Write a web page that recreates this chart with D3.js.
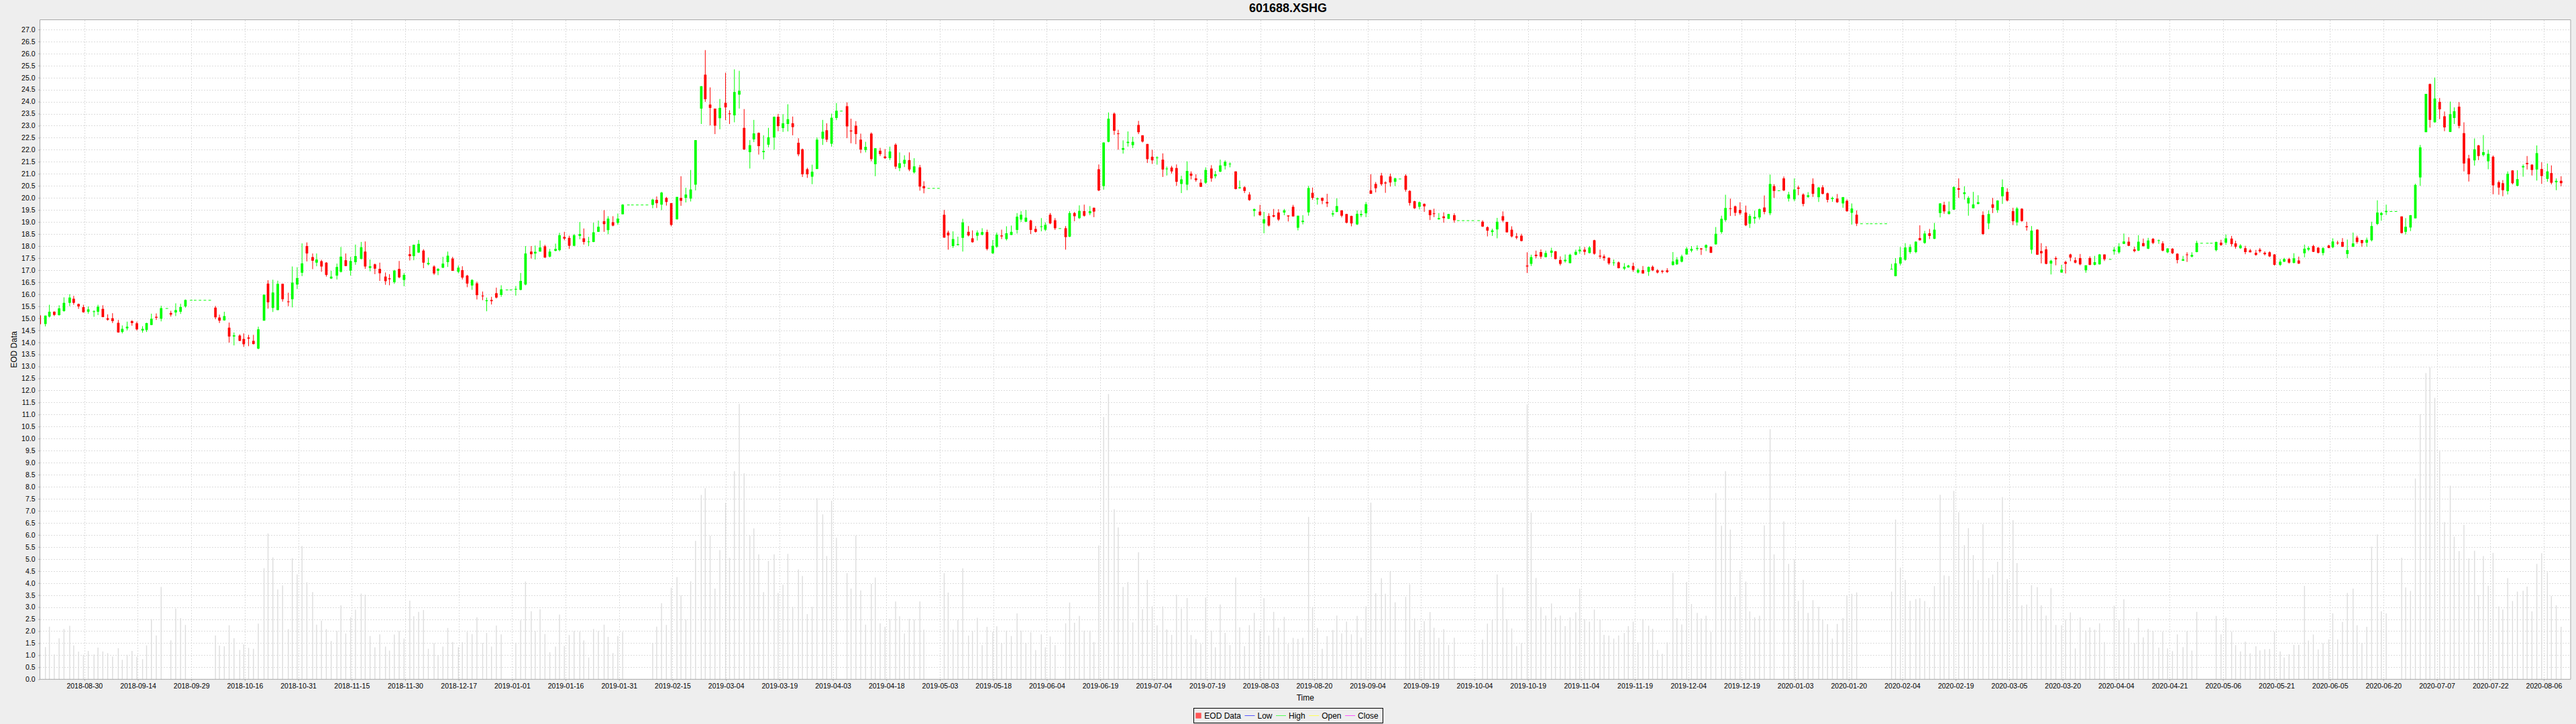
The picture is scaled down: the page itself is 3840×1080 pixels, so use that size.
<!DOCTYPE html>
<html>
<head>
<meta charset="utf-8">
<title>601688.XSHG</title>
<script src="https://cdn.jsdelivr.net/npm/d3@7"></script>
<style>
  html, body { margin: 0; padding: 0; background: #eeeeee; }
  svg { display: block; font-family: "Liberation Sans", Arial, sans-serif; }
  .tick text { font-size: 10.5px; fill: #000; }
</style>
</head>
<body>
<div id="chart"></div>
<script>
// one entry per weekday, first bar is Fri 2018-08-17, last is Thu 2020-08-13
const opens = [
  15.12,14.76,15.07,15.27,15.13,15.30,15.64,15.81,15.59,15.46,
  15.27,15.26,15.27,15.39,15.0,15.0,14.81,14.43,14.58,14.88,
  14.79,14.49,14.51,14.72,15.06,14.98,15.42,15.22,15.24,15.27,
  15.49,15.76,15.76,15.76,15.76,15.76,15.44,15.03,14.91,14.61,
  14.24,14.28,14.14,14.2,14.06,13.74,14.9,16.44,15.43,15.34,
  16.43,15.7,15.79,16.4,16.89,18.0,17.54,17.31,17.37,17.31,
  16.65,16.77,16.93,17.41,16.98,17.33,17.47,17.77,17.09,17.24,
  17.05,16.73,16.66,16.5,17.05,16.59,17.66,17.58,17.73,17.81,
  17.24,17.15,16.97,17.1,17.33,17.48,16.93,17.0,16.77,16.36,
  16.45,15.94,15.71,15.76,16.04,15.97,16.19,16.19,16.19,16.18,
  16.4,17.77,17.69,17.77,17.99,17.56,17.8,17.83,18.38,18.34,
  18.01,18.42,18.32,18.16,18.17,18.59,19.03,18.66,18.99,18.96,
  19.32,19.72,19.72,19.72,19.72,19.72,19.71,19.92,19.72,20.0,
  19.78,19.11,20.0,20.0,19.97,20.55,23.71,25.12,23.88,23.71,
  23.31,23.95,23.51,23.43,24.29,22.91,21.9,22.43,22.7,21.9,
  22.21,22.51,23.37,22.9,23.07,23.1,22.29,22.02,21.19,20.88,
  21.2,22.46,22.81,22.25,23.32,23.62,23.81,22.8,23.0,22.42,
  21.99,22.67,21.4,21.96,21.72,21.65,22.21,21.24,21.42,21.57,
  21.06,21.27,20.49,20.41,20.41,20.41,19.3,18.56,18.0,18.04,
  18.34,18.59,18.32,18.43,18.47,18.58,17.7,17.97,18.44,18.29,
  18.46,18.67,19.1,19.01,19.06,18.71,18.79,18.68,19.3,19.07,
  18.74,18.74,18.39,19.37,19.16,19.45,19.36,19.59,21.19,20.49,
  22.33,23.5,22.68,22.0,22.28,22.19,23.03,22.6,22.24,21.71,
  21.65,21.59,21.19,21.26,21.24,20.58,20.55,21.01,20.81,20.63,
  20.63,21.22,20.9,21.09,21.33,21.41,21.1,20.4,20.44,20.14,
  19.46,19.43,18.94,19.25,19.28,19.39,19.39,19.27,19.63,18.76,
  19.0,19.4,20.21,19.94,20.0,19.83,19.31,19.42,19.48,19.33,
  19.25,18.9,19.28,19.36,20.31,20.58,20.93,20.64,20.89,20.67,
  20.8,20.92,20.29,19.86,19.63,19.75,19.49,19.36,19.11,19.23,
  19.13,19.28,19.07,19.07,19.07,19.07,19.07,19.01,18.78,18.58,
  18.69,19.24,19.0,18.68,18.4,18.43,17.19,17.26,17.64,17.75,
  17.54,17.72,17.78,17.42,17.37,17.29,17.64,17.78,17.85,17.71,
  18.24,17.6,17.57,17.51,17.29,17.32,17.06,17.11,17.17,16.9,
  17.0,16.93,17.14,16.99,16.97,16.99,17.21,17.24,17.35,17.65,
  17.81,17.88,17.9,17.93,17.97,18.07,18.58,19.08,19.57,19.65,
  19.5,19.39,18.93,19.14,19.19,19.6,19.36,20.49,20.31,20.81,
  19.97,19.94,20.43,20.14,20.04,20.58,20.03,20.44,20.19,19.95,
  19.97,19.77,19.88,19.38,19.3,18.94,18.94,18.94,18.94,18.94,
  18.94,17.04,16.75,17.27,17.43,17.75,17.75,18.33,18.13,18.53,
  18.3,19.37,19.71,19.33,19.51,20.4,20.16,19.77,19.57,19.75,
  19.29,18.94,19.73,19.49,20.07,20.25,19.45,18.98,19.55,18.82,
  17.85,18.68,17.79,17.86,17.27,17.5,16.9,17.34,17.65,17.41,
  17.5,16.99,17.5,17.22,17.24,17.65,17.46,17.78,17.74,18.09,
  18.18,17.86,17.81,18.12,17.89,18.3,18.22,18.11,17.74,17.89,
  17.68,17.39,17.65,17.56,17.75,18.13,18.13,18.13,17.83,18.14,
  18.14,18.31,18.11,17.91,17.91,17.82,17.72,17.85,17.72,17.74,
  17.65,17.22,17.35,17.46,17.3,17.4,17.7,17.85,18.0,17.93,
  17.71,18.02,17.95,18.14,18.17,17.67,17.97,18.35,18.25,18.14,
  18.24,18.92,19.29,19.41,19.45,19.45,19.23,18.59,18.77,19.15,
  20.85,22.73,24.73,23.14,23.99,23.39,22.74,23.32,23.79,22.69,
  21.64,21.56,22.18,21.78,21.52,21.71,20.65,20.61,20.28,21.14,
  20.5,21.27,21.45,21.38,21.18,21.2,20.79,21.03,20.65,20.71
];

const closes = [
  14.75,15.11,15.27,15.14,15.41,15.64,15.86,15.64,15.49,15.25,
  15.37,15.29,15.48,15.05,14.94,14.88,14.41,14.56,14.65,14.80,
  14.54,14.56,14.8,14.98,15.02,15.42,15.42,15.15,15.34,15.47,
  15.76,15.76,15.76,15.76,15.76,15.76,15.04,14.9,15.09,14.24,
  14.29,14.06,13.92,14.15,13.93,14.54,15.98,15.66,16.07,16.43,
  15.79,15.67,16.48,16.67,17.28,17.69,17.39,17.44,17.15,16.8,
  16.73,17.13,17.56,17.17,17.38,17.58,17.95,17.15,17.16,17.06,
  16.87,16.54,16.62,16.98,16.7,16.8,17.58,18.05,18.09,17.31,
  17.3,16.86,17.05,17.27,17.6,16.97,17.1,16.69,16.44,16.59,
  15.96,15.91,15.75,15.71,15.86,16.2,16.19,16.19,16.22,16.55,
  17.69,17.66,17.76,17.94,17.52,17.77,17.88,18.45,18.31,18.01,
  18.45,18.5,18.17,18.19,18.57,18.8,18.91,19.14,18.85,19.14,
  19.72,19.72,19.72,19.72,19.72,19.72,19.93,19.78,20.22,19.83,
  18.88,20.04,19.88,20.14,20.35,22.4,24.64,24.1,23.74,23.0,
  23.74,23.76,23.49,24.4,24.45,22.01,22.19,22.68,22.15,21.95,
  22.52,23.37,22.98,23.1,23.27,22.94,21.81,20.98,20.98,21.09,
  22.42,22.75,22.42,23.33,23.62,23.62,22.97,22.76,22.65,22.01,
  22.12,21.61,22.06,21.82,21.65,21.93,21.3,21.44,21.58,21.18,
  21.31,20.47,20.4,20.41,20.41,20.41,18.35,18.44,18.29,18.08,
  18.98,18.44,18.16,18.56,18.58,17.88,18.01,18.47,18.4,18.53,
  18.59,19.22,19.3,19.18,18.67,18.59,18.82,18.88,18.94,18.74,
  18.74,18.37,19.37,19.24,19.46,19.26,19.45,19.43,20.31,22.3,
  23.29,22.79,22.66,22.07,22.33,22.33,22.73,22.34,21.61,21.56,
  21.68,21.18,21.22,21.1,20.67,20.77,21.12,20.92,20.74,20.46,
  21.16,20.81,20.98,21.35,21.5,21.42,20.37,20.44,20.29,19.91,
  19.53,19.28,19.11,18.85,19.22,19.1,19.48,19.23,19.23,19.26,
  19.05,20.41,20.0,19.98,19.88,19.77,19.36,19.66,19.26,18.97,
  18.94,19.34,19.33,19.74,20.17,20.4,20.57,20.6,20.64,20.81,
  20.8,20.34,19.79,19.57,19.82,19.65,19.28,19.33,19.16,19.16,
  19.33,19.07,19.07,19.07,19.07,19.07,19.07,18.81,18.64,18.65,
  19.01,19.06,18.57,18.4,18.35,18.21,17.15,17.54,17.58,17.56,
  17.71,17.81,17.46,17.26,17.43,17.64,17.76,17.85,17.76,17.94,
  17.68,17.56,17.5,17.28,17.32,17.08,17.14,17.19,17.01,17.01,
  16.86,17.13,16.99,16.9,16.93,16.92,17.36,17.44,17.57,17.89,
  17.88,17.92,17.86,18.04,17.72,18.51,19.13,19.58,19.54,19.38,
  19.36,18.86,19.25,19.21,19.53,19.42,20.58,20.29,20.31,20.31,
  20.14,20.35,20.38,19.75,20.11,20.17,20.43,20.17,19.92,20.0,
  19.82,20.03,19.45,19.56,18.93,18.94,18.94,18.94,18.94,18.94,
  18.94,17.05,17.28,17.53,17.94,17.96,18.18,18.24,18.52,18.42,
  18.68,19.77,19.44,19.44,20.45,20.34,20.23,20.0,19.73,19.82,
  18.5,19.33,19.59,19.89,20.45,19.89,19.03,19.56,19.04,18.78,
  18.64,17.64,17.7,17.26,17.39,17.45,17.02,17.26,17.52,17.31,
  17.24,17.2,17.22,17.33,17.65,17.45,17.46,17.85,17.98,18.19,
  18.01,17.79,18.18,18.0,18.23,18.13,18.24,17.81,17.9,17.7,
  17.42,17.45,17.63,17.63,18.13,18.13,18.13,18.13,18.17,18.04,
  18.32,18.08,17.97,18.02,17.75,17.74,17.63,17.78,17.66,17.57,
  17.22,17.35,17.46,17.31,17.49,17.27,17.89,17.92,17.76,17.72,
  17.91,17.92,18.19,18.13,17.97,17.83,18.11,18.17,18.12,18.26,
  18.83,19.39,19.37,19.46,19.45,19.45,18.54,18.8,19.28,20.54,
  22.1,24.32,23.24,24.13,23.68,22.93,23.48,23.6,22.99,21.43,
  20.98,22.02,21.74,21.9,21.83,20.52,20.43,20.32,21.0,20.61,
  20.78,21.32,21.4,21.16,21.86,20.91,21.1,20.63,20.71,20.61
];

const highs = [
  15.13,15.11,15.56,15.29,15.54,15.87,16.0,15.93,15.61,15.56,
  15.49,15.33,15.56,15.54,15.16,15.21,14.93,14.7,14.86,14.92,
  14.86,14.67,14.81,15.19,15.2,15.52,15.42,15.31,15.62,15.6,
  15.78,15.76,15.76,15.76,15.76,15.76,15.51,15.15,15.27,14.82,
  14.41,14.33,14.37,14.31,14.31,14.65,15.98,16.58,16.6,16.56,
  16.43,16.06,17.15,17.12,18.11,18.15,17.69,17.69,17.43,17.33,
  16.97,17.27,17.96,17.69,17.55,18.06,18.17,18.19,17.44,17.27,
  17.31,16.9,16.83,17.01,17.38,16.88,18.0,18.06,18.25,17.87,
  17.52,17.2,17.08,17.55,17.77,17.55,17.19,17.16,16.8,16.62,
  16.52,16.11,15.86,15.89,16.27,16.37,16.19,16.19,16.34,16.88,
  18.0,18.0,18.02,18.23,18.05,17.88,18.1,18.55,18.59,18.43,
  18.5,19.0,18.73,18.38,18.97,19.06,19.49,19.24,19.24,19.35,
  19.74,19.72,19.72,19.72,19.72,19.72,19.96,20.06,20.25,20.04,
  19.79,20.04,20.9,20.42,21.16,22.4,24.64,26.14,24.59,23.71,
  24.11,25.2,23.64,25.34,25.28,23.69,22.4,23.24,22.72,22.6,
  22.91,23.38,23.49,23.48,23.89,23.38,22.48,22.05,21.25,21.38,
  22.51,23.24,23.1,23.5,23.94,23.62,23.97,23.29,23.19,22.67,
  22.33,22.72,22.07,22.08,22.03,22.13,22.27,21.89,21.77,21.89,
  21.65,21.37,20.69,20.41,20.41,20.41,19.5,18.64,18.61,18.39,
  19.13,18.83,18.65,18.65,18.74,18.68,18.25,18.56,18.68,18.82,
  18.85,19.37,19.45,19.5,19.09,18.83,19.16,18.98,19.37,19.16,
  18.74,18.83,19.45,19.42,19.69,19.72,19.66,19.6,21.39,22.31,
  23.55,23.55,22.83,22.39,22.76,22.54,23.2,22.6,22.24,22.0,
  21.73,21.85,21.3,21.33,21.39,20.92,21.52,21.1,20.98,20.78,
  21.27,21.36,21.12,21.59,21.56,21.47,21.1,20.72,20.49,20.24,
  19.56,19.71,19.42,19.36,19.54,19.53,19.54,19.27,19.71,19.26,
  19.28,20.5,20.43,20.02,20.02,20.17,19.48,19.98,19.49,19.34,
  19.26,19.48,19.48,19.83,20.98,20.66,21.04,20.69,21.01,20.84,
  20.8,20.98,20.32,19.88,19.85,19.77,19.51,19.55,19.37,19.4,
  19.33,19.36,19.07,19.07,19.07,19.07,19.07,19.07,18.82,18.72,
  19.17,19.44,19.01,18.82,18.54,18.51,17.74,17.64,17.81,17.86,
  17.81,17.93,17.79,17.57,17.65,17.68,17.85,17.99,17.96,18.0,
  18.26,17.85,17.65,17.53,17.44,17.36,17.29,17.22,17.31,17.07,
  17.17,17.15,17.19,17.04,17.01,17.08,17.75,17.54,17.64,17.96,
  18.0,18.03,17.92,18.07,17.99,18.79,19.26,20.13,19.97,19.68,
  19.82,19.68,19.33,19.47,19.56,20.1,20.97,20.57,20.31,20.89,
  20.25,20.81,20.51,20.19,20.24,20.81,20.46,20.53,20.22,20.05,
  20.16,20.04,19.94,19.77,19.48,18.94,18.94,18.94,18.94,18.94,
  18.94,17.26,17.5,17.96,18.12,18.07,18.2,18.86,18.63,18.71,
  18.96,19.78,19.84,19.85,20.48,20.81,20.48,20.07,20.25,20.11,
  19.44,19.48,20.0,19.9,20.77,20.4,19.59,19.62,19.57,19.01,
  18.83,18.7,18.12,18.0,17.43,17.57,17.22,17.39,17.68,17.53,
  17.67,17.2,17.57,17.59,17.67,17.65,17.46,17.96,18.12,18.52,
  18.37,17.97,18.45,18.31,18.34,18.33,18.27,18.2,17.91,17.91,
  17.7,17.59,17.74,17.74,18.22,18.13,18.13,18.13,18.18,18.26,
  18.48,18.42,18.22,18.08,18.01,17.88,17.84,17.92,17.78,17.78,
  17.66,17.46,17.51,17.51,17.7,17.56,18.06,17.99,18.05,17.96,
  17.96,18.05,18.32,18.22,18.33,18.27,18.56,18.43,18.25,18.35,
  19.01,19.9,19.42,19.72,19.45,19.45,19.23,19.16,19.29,20.59,
  22.2,24.32,24.75,25.0,24.15,23.59,24.0,23.76,23.98,23.14,
  21.79,22.47,22.2,22.61,22.0,21.76,20.72,20.74,21.1,21.15,
  21.15,21.39,21.74,21.4,22.18,21.48,21.43,21.35,20.81,20.9
];

const lows = [
  14.72,14.66,15.03,15.09,15.11,15.27,15.5,15.56,15.39,15.23,
  15.19,15.06,15.13,15.04,14.9,14.8,14.4,14.37,14.5,14.69,
  14.49,14.4,14.43,14.71,14.93,14.87,15.42,15.07,15.09,15.18,
  15.44,15.76,15.76,15.76,15.76,15.76,14.96,14.8,14.9,13.99,
  13.87,14.05,13.81,13.84,13.91,13.71,14.9,15.4,15.26,15.33,
  15.69,15.5,15.45,16.21,16.75,17.36,17.04,17.16,16.93,16.73,
  16.63,16.61,16.9,17.16,16.77,17.22,17.44,17.05,16.95,16.83,
  16.55,16.39,16.37,16.43,16.66,16.33,17.4,17.41,17.71,17.08,
  17.2,16.8,16.79,17.08,17.13,16.97,16.87,16.61,16.29,16.18,
  15.78,15.75,15.29,15.57,15.82,15.89,16.19,16.19,15.94,16.16,
  16.37,17.48,17.44,17.77,17.51,17.53,17.78,17.78,18.24,17.88,
  17.99,18.28,18.06,18.0,18.16,18.59,18.59,18.49,18.82,18.88,
  19.32,19.72,19.72,19.72,19.72,19.72,19.57,19.58,19.49,19.68,
  18.82,19.1,19.67,19.81,19.85,20.31,23.07,23.99,23.01,22.65,
  22.85,23.23,23.07,23.14,23.71,22.0,21.22,22.32,21.8,21.6,
  22.1,22.0,22.77,22.74,22.76,22.6,21.73,20.87,20.83,20.57,
  21.2,22.2,22.32,22.13,23.23,23.62,22.48,22.27,22.23,21.86,
  21.89,21.52,20.9,21.74,21.62,21.57,21.2,21.11,21.28,21.11,
  21.01,20.3,20.19,20.41,20.41,20.41,18.35,17.85,17.92,18.02,
  17.77,18.4,18.14,18.23,18.44,17.82,17.67,17.92,18.29,18.23,
  18.46,18.52,19.0,19.0,18.5,18.56,18.61,18.62,18.91,18.67,
  18.74,17.85,18.37,19.03,19.12,19.22,19.28,19.2,20.28,20.34,
  22.31,22.62,22.0,21.84,22.13,22.07,22.65,22.3,21.45,21.41,
  21.38,20.87,20.93,21.01,20.5,20.2,20.32,20.77,20.67,20.46,
  20.58,20.67,20.81,21.07,21.18,21.27,20.35,20.38,20.2,19.88,
  19.23,19.25,18.53,18.81,19.19,19.04,19.28,19.02,19.22,18.65,
  18.9,19.26,19.92,19.72,19.74,19.62,19.22,19.4,19.19,18.94,
  18.82,18.87,19.2,19.2,20.17,20.23,20.5,20.21,20.47,20.49,
  20.8,20.26,19.68,19.54,19.52,19.42,19.08,19.2,19.1,18.97,
  19.13,18.97,19.07,19.07,19.07,19.07,19.07,18.79,18.4,18.42,
  18.32,18.99,18.56,18.36,18.28,18.19,16.88,17.17,17.49,17.47,
  17.53,17.54,17.44,17.19,17.31,17.28,17.61,17.68,17.63,17.69,
  17.64,17.47,17.39,17.22,17.18,17.07,17.0,17.1,16.93,16.86,
  16.85,16.76,16.96,16.86,16.86,16.88,17.19,17.22,17.32,17.64,
  17.74,17.81,17.63,17.79,17.71,18.06,18.51,19.01,19.25,19.25,
  19.29,18.83,18.75,18.93,19.1,19.32,19.28,20.0,20.31,20.28,
  19.85,19.86,20.11,19.65,20.0,20.04,19.83,20.14,19.81,19.84,
  19.79,19.59,19.42,18.89,18.83,18.94,18.94,18.94,18.94,18.94,
  18.94,17.04,16.74,17.19,17.39,17.68,17.7,18.23,18.09,18.29,
  18.29,19.19,19.34,19.31,19.51,20.0,19.93,19.26,19.57,19.73,
  18.46,18.7,19.37,19.38,19.75,19.85,18.87,18.85,19.01,18.64,
  17.68,17.63,17.28,17.24,16.82,17.2,16.89,16.86,17.37,17.28,
  17.2,16.89,17.2,17.2,17.23,17.38,17.46,17.64,17.68,18.08,
  18.0,17.74,17.79,17.97,17.87,18.08,18.09,17.78,17.7,17.67,
  17.28,17.38,17.34,17.53,17.74,18.13,18.13,18.13,17.78,18.01,
  18.05,17.98,17.89,17.88,17.66,17.74,17.6,17.72,17.61,17.54,
  17.19,17.17,17.33,17.27,17.28,17.26,17.53,17.79,17.75,17.69,
  17.61,17.91,17.91,18.05,17.96,17.49,17.96,18.1,17.97,17.97,
  18.19,18.87,19.05,19.29,19.45,19.45,18.52,18.48,18.62,19.15,
  20.5,22.73,22.92,23.13,23.27,22.77,22.74,23.07,22.89,21.1,
  20.68,21.34,21.57,21.72,21.19,20.15,20.13,20.07,20.14,20.56,
  20.48,20.88,21.18,20.93,20.72,20.58,20.67,20.56,20.32,20.48
];

const volumes = [
  1.3,1.34,2.19,1.03,1.7,2.09,2.22,1.41,1.15,1.02,
  1.18,1.03,1.32,1.16,1.09,0.95,1.29,0.81,1.02,1.18,
  0.94,0.84,1.41,2.5,1.82,3.84,0,1.62,2.94,2.54,
  2.26,0,0,0,0,0,1.82,1.4,1.37,2.24,
  1.71,1.22,1.45,1.3,1.27,2.31,4.62,6.06,5.06,3.73,
  3.9,2.08,5.03,4.36,5.54,4.03,3.62,2.27,2.44,2.08,
  1.59,2.01,3.07,1.9,2.58,2.89,3.56,3.52,1.8,1.33,
  1.87,1.36,1.19,1.86,2.01,1.69,3.27,2.62,2.8,2.88,
  1.27,1.5,1.0,1.36,2.13,1.55,1.34,1.54,1.97,1.88,
  2.58,1.51,1.93,1.36,2.23,1.87,0,0,1.52,2.45,
  4.06,2.83,2.01,2.91,1.88,1.12,1.36,2.69,1.39,1.84,
  2.01,1.98,1.62,0.91,2.09,2.01,2.27,1.76,1.09,1.8,
  1.97,0,0,0,0,0,1.5,2.19,3.16,2.26,
  3.8,4.25,3.48,2.48,4.07,5.75,7.66,7.94,5.97,3.77,
  5.37,7.33,5.04,8.65,11.44,8.56,5.97,6.27,5.19,3.62,
  4.92,5.19,3.59,3.93,5.21,3.01,4.56,4.29,2.71,3.01,
  7.52,6.85,5.12,7.42,5.88,0,4.41,3.77,5.97,3.69,
  2.27,3.96,4.23,2.33,2.18,2.5,3.23,2.62,1.9,2.51,
  2.48,3.23,2.06,0,0,0,4.41,3.6,2.06,2.47,
  4.61,1.81,2.0,2.56,1.42,2.18,1.97,2.2,1.51,2.02,
  1.8,2.74,2.02,1.5,1.96,1.21,1.87,1.33,1.78,1.42,
  0,2.33,3.19,2.35,2.63,2.02,2.02,1.55,5.56,10.9,
  11.85,7.07,6.31,3.84,4.04,2.36,5.28,2.91,4.13,3.03,
  2.24,3.03,2.07,1.85,3.52,2.94,3.38,1.84,1.67,1.47,
  3.4,2.02,1.33,3.11,1.93,1.42,4.23,2.16,1.38,2.25,
  2.76,2.02,3.37,1.81,2.8,2.14,2.59,1.47,1.72,1.68,
  1.72,6.75,3.0,2.13,1.27,1.79,2.05,2.65,1.91,2.4,
  1.87,2.63,1.73,3.03,7.34,3.57,4.2,3.55,4.5,3.2,
  0,3.43,3.94,2.53,2.04,2.42,2.79,2.14,1.72,2.08,
  1.42,1.73,0,0,0,0,0,1.65,2.31,2.46,
  4.35,3.81,2.5,2.11,1.38,1.5,11.42,6.93,4.21,3.0,
  2.65,3.15,2.57,2.65,2.21,2.57,2.78,3.76,2.5,2.4,
  2.9,2.46,1.85,1.81,1.69,1.82,1.92,2.21,2.4,1.53,
  2.5,2.22,2.1,1.22,1.06,1.53,4.42,2.54,2.28,4.04,
  3.13,2.76,2.53,2.64,1.97,7.74,6.38,8.65,6.22,3.43,
  4.51,4.06,2.82,2.58,2.64,6.39,10.39,5.19,0,6.56,
  4.79,4.99,3.26,4.13,2.76,3.29,3.01,2.47,2.29,1.69,
  2.3,2.54,3.46,3.55,3.61,0,0,0,0,0,
  0,3.64,6.64,4.64,4.13,3.26,3.33,3.37,3.25,2.98,
  3.87,7.67,4.32,4.29,7.83,6.94,5.57,6.28,5.16,4.12,
  6.45,4.21,4.35,4.88,7.57,4.16,6.61,4.83,3.07,3.11,
  3.91,3.83,3.07,2.65,3.79,2.26,2.24,2.48,2.78,1.28,
  2.57,2.03,2.15,2.06,2.33,1.55,0,3.06,2.46,3.32,
  2.13,1.51,2.55,1.74,2.09,2.0,1.32,1.98,1.28,1.17,
  1.87,1.34,2.0,1.19,2.8,0,0,0,2.63,1.87,
  2.56,1.98,1.42,1.16,1.56,1.08,1.37,1.2,1.25,1.26,
  1.98,1.16,0.91,1.04,1.43,1.43,3.88,1.61,1.86,1.24,
  1.5,1.66,2.74,1.66,2.38,3.59,3.77,2.24,1.5,2.18,
  5.51,6.02,2.83,2.74,0,0,5.05,3.82,3.67,8.34,
  11.01,12.72,12.95,11.69,9.47,6.53,8.04,5.93,5.33,6.42,
  5.02,5.34,3.5,5.12,3.89,5.25,3.03,2.9,4.2,3.25,
  3.64,3.68,3.85,2.82,4.79,5.24,4.45,3.46,3.07,2.18
];

const tickLabels = [
  "2018-08-30","2018-09-14","2018-09-29","2018-10-16","2018-10-31","2018-11-15","2018-11-30","2018-12-17",
  "2019-01-01","2019-01-16","2019-01-31","2019-02-15","2019-03-04","2019-03-19","2019-04-03","2019-04-18",
  "2019-05-03","2019-05-18","2019-06-04","2019-06-19","2019-07-04","2019-07-19","2019-08-03","2019-08-20",
  "2019-09-04","2019-09-19","2019-10-04","2019-10-19","2019-11-04","2019-11-19","2019-12-04","2019-12-19",
  "2020-01-03","2020-01-20","2020-02-04","2020-02-19","2020-03-05","2020-03-20","2020-04-04","2020-04-21",
  "2020-05-06","2020-05-21","2020-06-05","2020-06-20","2020-07-07","2020-07-22","2020-08-06"
];

const legendNames = ["EOD Data", "Low", "High", "Open", "Close"];
const legendColors = ["#ff5555", "#5555ff", "#55ff55", "#ffff55", "#ff55ff"];

// dimensions

const width = 3840;
const height = 1080;
const plot = { left: 59.5, right: 3832, top: 29.5, bottom: 1013.3 };

const svg = d3.select("#chart").append("svg")
  .attr("width", width)
  .attr("height", height);

svg.append("defs").append("clipPath").attr("id", "plot-clip")
  .append("rect")
  .attr("x", plot.left)
  .attr("y", plot.top)
  .attr("width", plot.right - plot.left)
  .attr("height", plot.bottom - plot.top);

svg.append("rect")
  .attr("x", plot.left)
  .attr("y", plot.top)
  .attr("width", plot.right - plot.left)
  .attr("height", plot.bottom - plot.top)
  .attr("fill", "#ffffff");

// scales

const x = d3.scaleLinear().domain([0, opens.length - 1]).range([59.16, 3817.8]);
const y = d3.scaleLinear().domain([0, 27.4]).range([plot.bottom, plot.top]);

// the renderer pushed Mondays slightly to the right
const barX = i => x(i) + ((i - 1) % 5 === 0 ? 1.3 : 0);

const yTicks = d3.range(0, 55).map(d => d / 2);
const xTicks = tickLabels.map((d, i) => 9.2 + i * 11.005);

// grid

const grid = svg.append("g")
  .attr("stroke", "#dcdcdc")
  .attr("stroke-width", 1)
  .attr("stroke-dasharray", "2,2")
  .attr("shape-rendering", "crispEdges");

grid.selectAll(".h").data(yTicks).enter().append("line")
  .attr("x1", plot.left).attr("x2", plot.right)
  .attr("y1", d => Math.round(y(d)) + 0.5).attr("y2", d => Math.round(y(d)) + 0.5);

grid.selectAll(".v").data(xTicks).enter().append("line")
  .attr("y1", plot.top).attr("y2", plot.bottom)
  .attr("x1", d => Math.round(x(d)) + 0.5).attr("x2", d => Math.round(x(d)) + 0.5);

// volume

const marks = svg.append("g").attr("clip-path", "url(#plot-clip)");
const index = d3.range(opens.length);

marks.append("g").selectAll("line")
  .data(index.filter(i => volumes[i] > 0))
  .enter().append("line")
  .attr("x1", barX).attr("x2", barX)
  .attr("y1", y(0))
  .attr("y2", i => y(volumes[i]))
  .attr("stroke", "#dddddd")
  .attr("stroke-width", 1.4);

// candles

const upColor = "#00ff00";
const downColor = "#ff0000";
const barColor = i => closes[i] >= opens[i] ? upColor : downColor;

const candles = marks.append("g").selectAll("g")
  .data(index)
  .enter().append("g");

candles.append("line")
  .attr("x1", barX).attr("x2", barX)
  .attr("y1", i => y(highs[i]))
  .attr("y2", i => y(lows[i]))
  .attr("stroke", barColor)
  .attr("stroke-width", 1);

candles.append("rect")
  .attr("x", i => barX(i) - 1.9)
  .attr("width", 3.8)
  .attr("y", i => y(Math.max(opens[i], closes[i])))
  .attr("height", i => Math.max(1, Math.abs(y(opens[i]) - y(closes[i]))))
  .attr("fill", barColor);

// axes

const yAxis = d3.axisLeft(y).tickValues(yTicks).tickFormat(d3.format(".1f")).tickSize(2).tickPadding(5);
const xAxis = d3.axisBottom(x).tickValues(xTicks).tickFormat((d, i) => tickLabels[i]).tickSize(2).tickPadding(4);

svg.append("g")
  .attr("transform", `translate(${plot.left},0)`)
  .call(yAxis)
  .call(g => g.select(".domain").remove())
  .selectAll("line").attr("stroke", "#999999");

svg.append("g")
  .attr("transform", `translate(0,${plot.bottom})`)
  .call(xAxis)
  .call(g => g.select(".domain").remove())
  .selectAll("line").attr("stroke", "#999999");

// outline

svg.append("path")
  .attr("d", `M${plot.left},${plot.bottom}V${plot.top}H${plot.right}V${plot.bottom}Z`)
  .attr("fill", "none")
  .attr("stroke", "#a8a8a8")
  .attr("stroke-width", 1);

// titles

svg.append("text")
  .attr("x", width / 2)
  .attr("y", 18)
  .attr("text-anchor", "middle")
  .style("font-size", "18px")
  .style("font-weight", "700")
  .text("601688.XSHG");

svg.append("text")
  .attr("x", (plot.left + plot.right) / 2)
  .attr("y", 1045)
  .attr("text-anchor", "middle")
  .style("font-size", "12px")
  .text("Time");

svg.append("text")
  .attr("transform", `translate(25,${(plot.top + plot.bottom) / 2}) rotate(-90)`)
  .attr("text-anchor", "middle")
  .style("font-size", "12px")
  .text("EOD Data");

// legend

const legend = svg.append("g");

legend.append("rect")
  .attr("x", 1779.5).attr("y", 1056.5)
  .attr("width", 282).attr("height", 22)
  .attr("fill", "#eeeeee")
  .attr("stroke", "#000000");

let cursor = 1782.3;

legendNames.forEach((name, i) => {
  if (i === 0) {
    legend.append("rect")
      .attr("x", cursor).attr("y", 1063.3)
      .attr("width", 8.4).attr("height", 8.4)
      .attr("fill", legendColors[i]);
    cursor += 13;
  } else {
    legend.append("line")
      .attr("x1", cursor).attr("x2", cursor + 15)
      .attr("y1", 1067.5).attr("y2", 1067.5)
      .attr("stroke", legendColors[i]);
    cursor += 19;
  }
  const label = legend.append("text")
    .attr("x", cursor)
    .attr("y", 1071.7)
    .style("font-size", "12px")
    .text(name);
  cursor += label.node().getComputedTextLength() + 5.5;
});
</script>
</body>
</html>
